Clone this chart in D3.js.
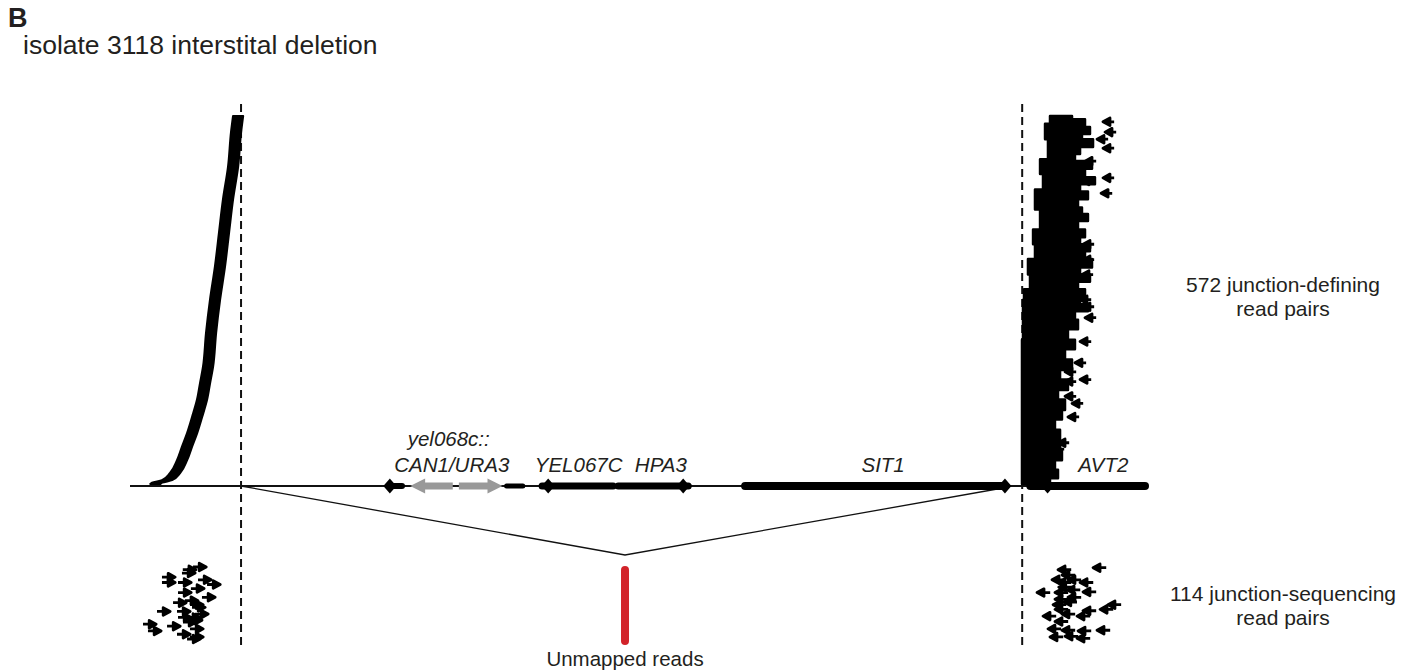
<!DOCTYPE html>
<html>
<head>
<meta charset="utf-8">
<script src="https://cdn.jsdelivr.net/npm/d3@7"></script>
<style>
  body { margin: 0; background: #fff; }
  svg text { font-family: "Liberation Sans", Arial, sans-serif; fill: #231f20; }
</style>
</head>
<body>
<svg id="chart" width="1416" height="670"></svg>
<script>
// positions along chrV, in kb from the left end of the drawn window
const junctionLeft = 1.094;
const junctionRight = 8.79;
const deletionApex = 4.877;
const deletionEnd = 8.60;
const readLen = 0.1;

// gene track
const genes = [
  { name: 'YEL067C', start: 4.06, end: 4.76, diamond: 4.12, width: 7 },
  { name: 'HPA3', start: 4.81, end: 5.50, diamond: 5.45, width: 7 },
  { name: 'SIT1', start: 6.06, end: 8.62, diamond: 8.62, width: 8 },
  { name: 'AVT2', start: 8.87, end: 10.0, diamond: 9.04, width: 8 },
];
const smallFeatures = [
  { start: 2.56, end: 2.68, diamond: 2.56, width: 6 },
  { start: 3.71, end: 3.87, diamond: null, width: 5 },
];
const markerArrows = [ // CAN1/URA3 cassette
  { from: 3.18, to: 2.76 },
  { from: 3.24, to: 3.67 },
];
const geneLabels = [
  { text: 'YEL067C', pos: 4.42 },
  { text: 'HPA3', pos: 5.23 },
  { text: 'SIT1', pos: 7.42 },
  { text: 'AVT2', pos: 9.59 },
];

// 572 junction-defining pairs, left side: read start by rank (sorted stack)
const leftStackRank = [0, 2, 6, 17, 37, 58, 79, 104, 131, 157, 182, 235, 286, 338, 391, 442, 493, 546, 571];
const leftStackStart = [0.20, 0.217, 0.315, 0.394, 0.463, 0.512, 0.562, 0.611, 0.660, 0.690, 0.719, 0.749, 0.788, 0.837, 0.877, 0.916, 0.966, 0.995, 1.015];

// right side pile: outer (3') edge and inner (junction) edge by rank
const pileOuterRank = [571, 566, 554, 543, 535, 523, 512, 501, 489, 476, 465, 454, 442, 429, 419, 408, 395, 383, 372, 361, 349, 336, 325, 314, 302, 289, 279, 268, 255, 240, 224, 209, 193, 177, 162, 146, 131, 115, 100, 84, 68, 53, 37, 22, 9, 0];
const pileOuterKb = [9.281, 9.409, 9.458, 9.379, 9.488, 9.360, 9.310, 9.478, 9.409, 9.507, 9.360, 9.438, 9.340, 9.379, 9.438, 9.340, 9.409, 9.360, 9.458, 9.409, 9.478, 9.360, 9.458, 9.340, 9.409, 9.360, 9.438, 9.310, 9.340, 9.241, 9.310, 9.212, 9.281, 9.163, 9.241, 9.143, 9.212, 9.182, 9.113, 9.163, 9.143, 9.182, 9.113, 9.143, 9.064, 9.015];
const pileInnerRank = [0, 224, 286, 302, 325, 349, 372, 395, 426, 457, 481, 504, 535, 559, 571];
const pileInnerKb = [8.788, 8.798, 8.808, 8.867, 8.847, 8.916, 8.897, 8.966, 8.916, 8.995, 8.966, 9.044, 9.015, 9.064, 9.133];
// right side reads standing out of the pile: [start kb, rank]
const rightOutliers = [
  [9.586, 562], [9.606, 546], [9.527, 535], [9.586, 521], [9.409, 501], [9.586, 475],
  [9.379, 470], [9.567, 451], [9.389, 372], [9.389, 348], [9.379, 325], [9.360, 286],
  [9.389, 275], [9.409, 258], [9.360, 221], [9.310, 188], [9.212, 174], [9.360, 162],
  [9.212, 159], [9.212, 136], [9.281, 125], [9.241, 104], [9.143, 64], [9.094, 54],
];

// 114 junction-sequencing pairs: [start kb, rank]
const seqLeft = [
  [0.621, 110], [0.512, 101], [0.315, 95], [0.670, 91], [0.315, 87], [0.473, 87],
  [0.759, 84], [0.473, 72], [0.709, 65], [0.424, 57], [0.591, 54], [0.266, 44],
  [0.463, 44], [0.611, 50], [0.473, 35], [0.560, 35], [0.128, 25], [0.365, 22],
  [0.522, 28], [0.591, 18], [0.177, 15], [0.463, 10], [0.591, 6], [0.562, 3],
  [0.640, 40], [0.540, 60], [0.600, 78], [0.520, 106], [0.580, 31],
];
const seqRight = [
  [9.488, 109], [9.143, 106], [9.182, 98], [9.084, 91], [9.241, 91], [9.143, 87],
  [9.360, 87], [8.936, 72], [9.113, 72], [9.232, 76], [9.389, 73], [9.113, 62],
  [9.241, 65], [9.094, 54], [9.635, 54], [9.557, 47], [9.113, 47], [9.389, 45],
  [8.995, 37], [9.182, 40], [9.330, 37], [9.113, 29], [9.044, 18], [9.182, 16],
  [9.340, 15], [9.527, 16], [9.064, 6], [9.212, 7], [9.330, 4], [9.150, 80], [9.200, 58],
];

const svg = d3.select('#chart');

const x = d3.scaleLinear().domain([0, 10]).range([130, 1145]);
const yPairs = d3.scaleLinear().domain([0, 571]).range([484, 116]);
const ySeq = d3.scaleLinear().domain([0, 113]).range([641, 565]);
const trackY = 486;

// header
svg.append('text').attr('x', 8).attr('y', 27)
  .style('font-size', '27px').style('font-weight', 'bold').text('B');
svg.append('text').attr('x', 23).attr('y', 54)
  .style('font-size', '26.5px').text('isolate 3118 interstital deletion');

// junction dashed lines
svg.selectAll('.junction')
  .data([junctionLeft, junctionRight])
  .enter()
    .append('line')
    .attr('class', 'junction')
    .attr('x1', d => x(d)).attr('x2', d => x(d))
    .attr('y1', 104).attr('y2', 650)
    .attr('stroke', '#111')
    .attr('stroke-width', 2)
    .attr('stroke-dasharray', '8,5');

// chromosome line
svg.append('line')
  .attr('x1', x(0)).attr('x2', x(10))
  .attr('y1', trackY).attr('y2', trackY)
  .attr('stroke', '#111').attr('stroke-width', 2);

// deletion V
svg.append('path')
  .attr('d', d3.line()([[x(junctionLeft), trackY], [x(deletionApex), 555], [x(deletionEnd), trackY + 2]]))
  .attr('fill', 'none').attr('stroke', '#111').attr('stroke-width', 1.3);

const diamond = (cx, cy, hw, hh) => `M${cx - hw},${cy}L${cx},${cy - hh}L${cx + hw},${cy}L${cx},${cy + hh}Z`;

// genes
const allFeatures = genes.concat(smallFeatures);
svg.selectAll('.gene')
  .data(allFeatures)
  .enter()
    .append('line')
    .attr('class', 'gene')
    .attr('x1', d => x(d.start)).attr('x2', d => x(d.end))
    .attr('y1', trackY).attr('y2', trackY)
    .attr('stroke', '#000')
    .attr('stroke-width', d => d.width)
    .attr('stroke-linecap', 'round');

svg.selectAll('.diamond')
  .data(allFeatures.filter(d => d.diamond !== null))
  .enter()
    .append('path')
    .attr('class', 'diamond')
    .attr('d', d => diamond(x(d.diamond), trackY, 6.5, 7.5))
    .attr('fill', '#000');

// CAN1/URA3 cassette arrows
svg.selectAll('.marker')
  .data(markerArrows)
  .enter()
    .append('path')
    .attr('class', 'marker')
    .attr('d', (d) => {
      const x0 = x(d.from);
      const x1 = x(d.to);
      const dir = x1 > x0 ? 1 : -1;
      const hx = x1 - dir * 15;
      return `M${x0},${trackY - 3.5}L${hx},${trackY - 3.5}L${hx},${trackY - 7.5}L${x1},${trackY}`
        + `L${hx},${trackY + 7.5}L${hx},${trackY + 3.5}L${x0},${trackY + 3.5}Z`;
    })
    .attr('fill', '#999');

// gene labels
svg.selectAll('.geneLabel')
  .data(geneLabels)
  .enter()
    .append('text')
    .attr('class', 'geneLabel')
    .attr('x', d => x(d.pos))
    .attr('y', 472)
    .attr('text-anchor', 'middle')
    .style('font-size', '20.5px')
    .style('font-style', 'italic')
    .text(d => d.text);
svg.append('text').attr('x', x(3.14)).attr('y', 446)
  .attr('text-anchor', 'middle').style('font-size', '20.5px').style('font-style', 'italic')
  .text('yel068c::');
svg.append('text').attr('x', x(3.17)).attr('y', 472)
  .attr('text-anchor', 'middle').style('font-size', '20.5px').style('font-style', 'italic')
  .text('CAN1/URA3');

// left stack of junction-defining reads
const leftStack = leftStackRank.map((r, i) => ({ rank: r, start: leftStackStart[i] }));
svg.append('path')
  .datum(leftStack)
  .attr('d', d3.area()
    .x0(d => x(d.start))
    .x1(d => x(d.start + readLen))
    .y(d => yPairs(d.rank))
    .curve(d3.curveMonotoneY))
  .attr('fill', '#000')
  .attr('stroke', '#000')
  .attr('stroke-width', 2)
  .attr('stroke-linejoin', 'round');

// right pile, outer edge down then junction edge back up (stepped, like stacked reads)
const pileOutline = pileOuterRank.map((r, i) => [x(pileOuterKb[i]), yPairs(r)])
  .concat(pileInnerRank.map((r, i) => [x(pileInnerKb[i]), yPairs(r)]));
svg.append('path')
  .attr('d', d3.line().curve(d3.curveStepBefore)(pileOutline) + 'Z')
  .attr('fill', '#000')
  .attr('stroke', '#000')
  .attr('stroke-width', 2.5)
  .attr('stroke-linejoin', 'round');

// single read glyph
const readPath = (x0, x1, y, forward) => {
  if (forward) {
    return `M${x0},${y}L${x1 - 4},${y}M${x1 - 7},${y - 3.8}L${x1},${y}L${x1 - 7},${y + 3.8}Z`;
  }
  return `M${x1},${y}L${x0 + 4},${y}M${x0 + 7},${y - 3.8}L${x0},${y}L${x0 + 7},${y + 3.8}Z`;
};

const drawReads = (cls, data, yScale, forward, len) => {
  svg.selectAll(`.${cls}`)
    .data(data)
    .enter()
      .append('path')
      .attr('class', cls)
      .attr('d', d => readPath(x(d[0]), x(d[0] + len), yScale(d[1]), forward))
      .attr('fill', '#000')
      .attr('stroke', '#000')
      .attr('stroke-width', 2.8)
      .attr('stroke-linejoin', 'round');
};

drawReads('rightOut', rightOutliers, yPairs, false, 0.11);
drawReads('seqL', seqLeft, ySeq, true, 0.13);
drawReads('seqR', seqRight, ySeq, false, 0.13);

// unmapped reads
svg.append('line')
  .attr('x1', x(deletionApex)).attr('x2', x(deletionApex))
  .attr('y1', 570).attr('y2', 641)
  .attr('stroke', '#d2232a').attr('stroke-width', 8).attr('stroke-linecap', 'round');
svg.append('text').attr('x', x(deletionApex)).attr('y', 666)
  .attr('text-anchor', 'middle').style('font-size', '20.5px').text('Unmapped reads');

// right side labels
const sideLabels = [
  { lines: ['572 junction-defining', 'read pairs'], y: 292 },
  { lines: ['114 junction-sequencing', 'read pairs'], y: 601 },
];
sideLabels.forEach((lab) => {
  const t = svg.append('text').attr('text-anchor', 'middle').style('font-size', '21px');
  lab.lines.forEach((ln, i) => {
    t.append('tspan').attr('x', 1283).attr('y', lab.y + i * 24).text(ln);
  });
});
</script>
</body>
</html>
